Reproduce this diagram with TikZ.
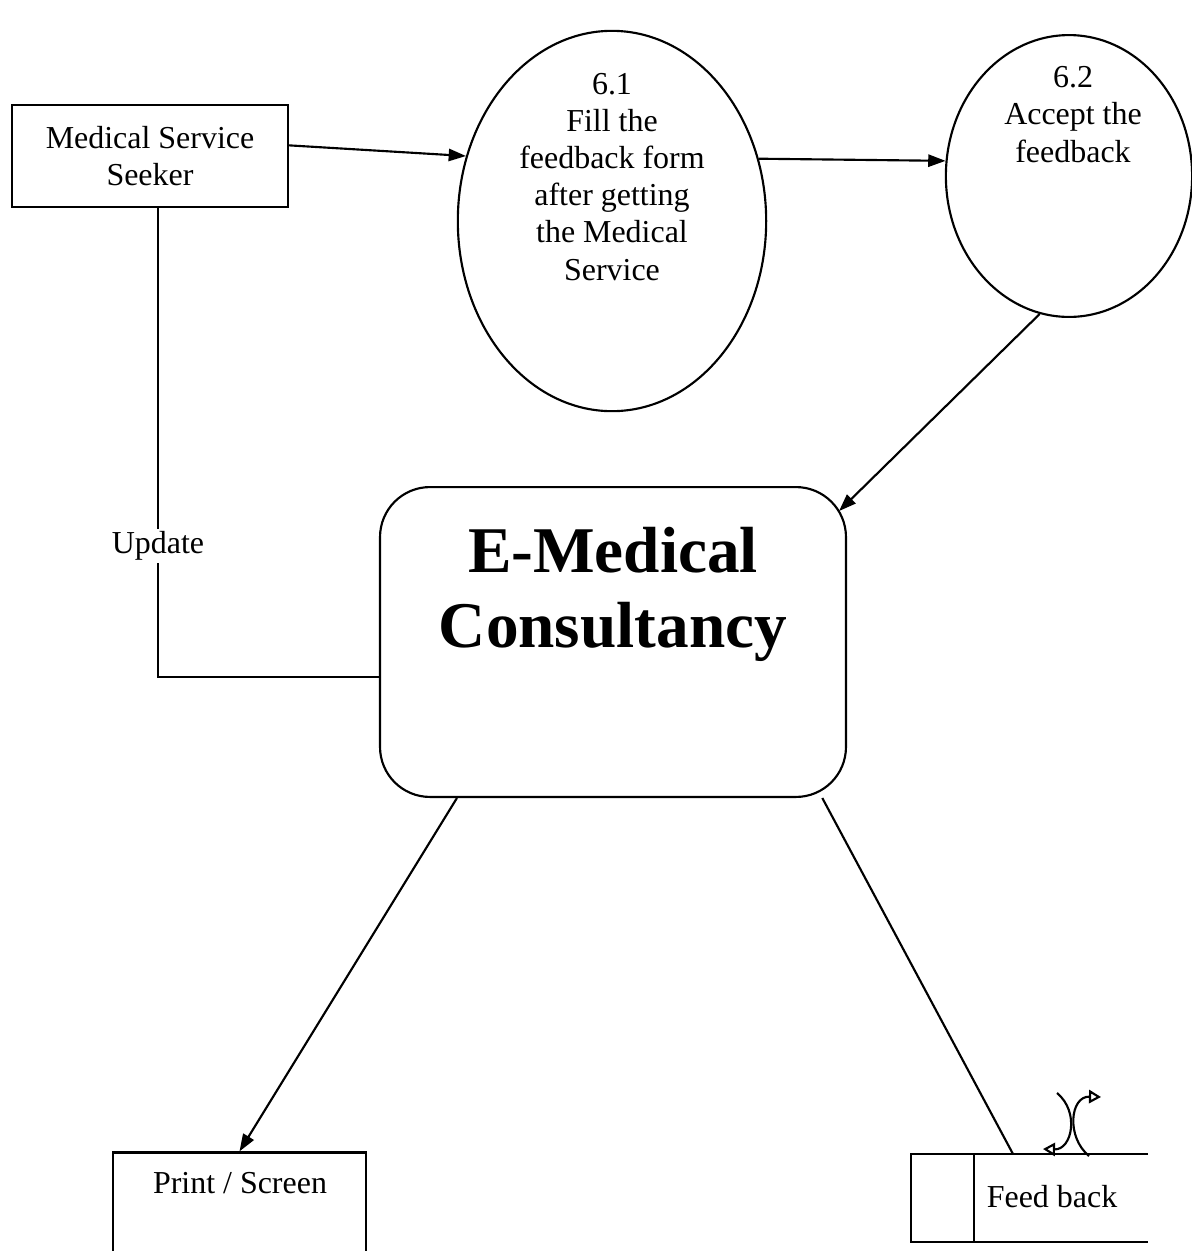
\documentclass[tikz,border=0pt]{standalone}
\usepackage{fontspec}
\setmainfont{Liberation Serif}
\usetikzlibrary{shapes.geometric,arrows.meta}

\tikzset{
  txt/.style={font=\fontsize{12}{13.9}\selectfont, align=center, inner sep=0pt},
  entity/.style={draw, line width=0.8pt, minimum width=3.64cm, minimum height=1.35cm, txt},
  process/.style={draw, ellipse, line width=0.8pt},
  flow/.style={line width=0.8pt, -{Triangle[length=6.5pt,width=4.6pt]}},
  link/.style={line width=0.8pt},
  swapflow/.style={line width=0.8pt, -{Triangle[open,length=4.5pt,width=5pt]}},
}

\begin{document}
\begin{tikzpicture}[x=0.0132cm, y=-0.0132cm]
\useasboundingbox (0,0) rectangle (1192,1251);

% External entity
\node[entity] (seeker) at (150,156) {Medical Service\\Seeker};

% Process bubbles (text base = last line)
\node[process, minimum width=4.07cm, minimum height=5.02cm] (p61) at (612,221) {};
\node[txt, anchor=base] (p61text) at (612,280) {6.1\\Fill the\\feedback form\\after getting\\the Medical\\Service};
\node[process, minimum width=3.25cm, minimum height=3.72cm] (p62) at (1069,176) {};
\node[txt, anchor=base] (p62text) at (1073,162) {6.2\\Accept the\\feedback};

% Main system box
\node[draw, line width=0.8pt, rounded corners=0.66cm, minimum width=6.15cm, minimum height=4.09cm] (main) at (613,642) {};
\node[anchor=base, align=center, inner sep=0pt, font=\bfseries\fontsize{24.5}{28}\selectfont] (title) at (613,647) {E-Medical\\Consultancy};

% Output box (runs off the bottom of the page)
\node[draw, line width=0.8pt, minimum width=3.34cm, minimum height=1.81cm] (print) at (239.5,1221) {};
\node[txt, anchor=base] (printtext) at (240,1193) {Print / Screen};

% Data store, open on the right
\coordinate (storetl) at (911,1154);
\coordinate (storebl) at (911,1242);
\coordinate (storetop) at (1013,1154);
\draw[link] (1148,1154) -- (storetl) -- (storebl) -- (1148,1242);
\draw[link] (974,1154) -- (974,1242);
\node[txt, anchor=base] (storetext) at (1052,1207) {Feed back};

% Flows
\draw[flow] ([yshift=4pt]seeker.east) -- (p61.156);
\draw[flow] (p61.23) -- (p62.173);
\draw[flow] (p62.258) -- ([xshift=-3pt,yshift=-9.4pt]main.north east);
\draw[link] ([xshift=3pt]seeker.south) |- ([yshift=-13.2pt]main.west)
  node[txt, pos=0.36, fill=white, inner sep=1pt] {Update};
\draw[flow] ([xshift=-58.6pt]main.south) -- (print.north);
\draw[link] ([xshift=78.6pt]main.south) -- (storetop);

% Read / write arrows over the store
\draw[swapflow] (1057,1093) .. controls (1080,1112) and (1072,1150) .. (1043,1149);
\draw[swapflow] (1089,1156) .. controls (1066,1137) and (1070,1096) .. (1101,1097);

\end{tikzpicture}
\end{document}
